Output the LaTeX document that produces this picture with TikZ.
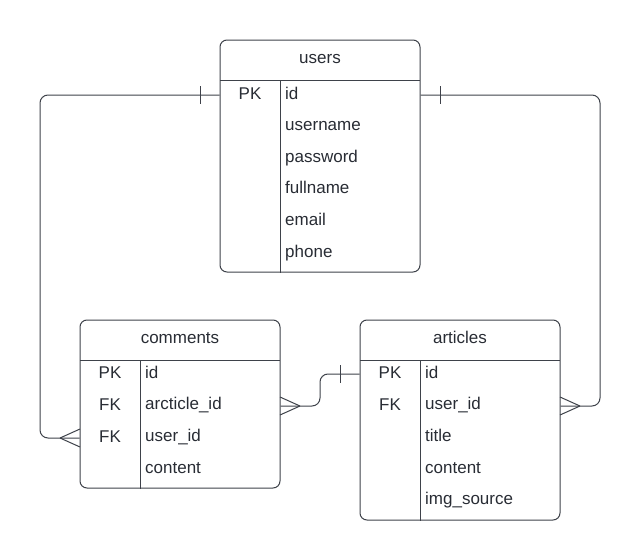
\documentclass[tikz,border=0pt]{standalone}
\usepackage{fontspec}
\setmainfont{Liberation Sans}
\usepackage{xcolor}
\usetikzlibrary{positioning}
\definecolor{linec}{RGB}{62,66,74}
\definecolor{textc}{RGB}{40,44,52}

\begin{document}
\begin{tikzpicture}[x=1pt,y=-1pt,
      table/.style={draw=linec,line width=1pt,rounded corners=7pt,inner sep=0pt},
      title/.style={text=textc,font=\fontsize{17}{20}\selectfont,anchor=center,text height=12pt,text depth=4pt},
      key/.style={text=textc,font=\fontsize{17}{20}\selectfont,anchor=center,text height=12pt,text depth=4pt},
      field/.style={text=textc,font=\fontsize{17}{20}\selectfont,anchor=west,inner sep=0pt,text height=12pt,text depth=4pt},
      sep/.style={draw=linec,line width=1pt},
      rel/.style={draw=linec,line width=1pt,rounded corners=8pt}]
    \useasboundingbox (0,0) rectangle (641,560);
    % tables
    \node[table,minimum width=200pt,minimum height=232pt] (users) at (320,156) {};
    \node[table,minimum width=200pt,minimum height=168pt] (comments) at (180,404) {};
    \node[table,minimum width=200pt,minimum height=200pt] (articles) at (460,420) {};
    % header and key columns
    \draw[sep] (220,80) -- (420,80) (280,80) -- (users.south -| 280,0);
    \draw[sep] (80,360) -- (280,360) (140,360) -- (comments.south -| 140,0);
    \draw[sep] (360,360) -- (560,360) (420,360) -- (articles.south -| 420,0);
    \node[title] (users-t) at (320,59) {users};
    \node[title] (comments-t) at (180,339) {comments};
    \node[title] (articles-t) at (460,339) {articles};
    % fields
    \foreach \f [count=\i] in {id,username,password,fullname,email,phone}
      \node[field] (u\i) at (285,{95+31.6*(\i-1)}) {\f};
    \foreach \f [count=\i] in {id,arcticle\_id,user\_id,content}
      \node[field] (c\i) at (145,{374+31.7*(\i-1)}) {\f};
    \foreach \f [count=\i] in {id,user\_id,title,content,img\_source}
      \node[field] (a\i) at (425,{374+31.7*(\i-1)}) {\f};
    \node[key] (u-pk) at (250,95) {PK};
    \node[key] (c-pk) at (110,374) {PK};
    \node[key] (c-fk1) at (110,406) {FK};
    \node[key] (c-fk2) at (110,438) {FK};
    \node[key] (a-pk) at (390,374) {PK};
    \node[key] (a-fk) at (390,406) {FK};
    % users -> comments
    \draw[rel] (users.west |- u-pk) -- (40,95) -- (40,438) -- (comments.west |- c-fk2);
    \draw[sep] (200,86) -- (200,104);
    \draw[sep] (60,438) -- (80,429) (60,438) -- (80,447);
    % users -> articles
    \draw[rel] (users.east |- u-pk) -- (600,95) -- (600,406) -- (articles.east |- a-fk);
    \draw[sep] (440,86) -- (440,104);
    \draw[sep] (580,406) -- (560,397) (580,406) -- (560,415);
    % articles -> comments
    \draw[rel] (comments.east |- c-fk1) -- (320,406) -- (320,374) -- (articles.west |- a-pk);
    \draw[sep] (340,365) -- (340,383);
    \draw[sep] (300,406) -- (280,397) (300,406) -- (280,415);
  \end{tikzpicture}
\end{document}
